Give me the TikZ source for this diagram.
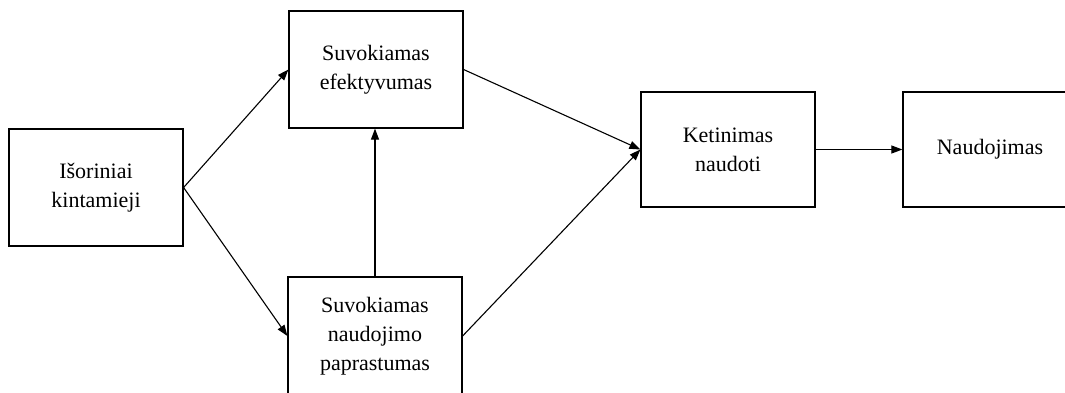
\documentclass[tikz,border=0pt]{standalone}
\usepackage{fontspec}
\setmainfont{Liberation Serif}
\usetikzlibrary{arrows.meta}
\begin{document}
\begin{tikzpicture}[x=1pt,y=-1pt,
  box/.style={draw,line width=1.2pt,minimum width=#1,align=center,inner sep=0pt,font=\fontsize{22}{29}\selectfont},
  conn/.style={line width=1.1pt,-{Triangle[length=11pt,width=8pt]}}]
\useasboundingbox (0,0) rectangle (1065,392);
\node[box=174pt,minimum height=117pt] (ext) at (96,187.5) {Išoriniai\\kintamieji};
\node[box=174pt,minimum height=117pt] (eff) at (376,69.5) {Suvokiamas\\efektyvumas};
\node[box=174pt,minimum height=118pt] (ease) at (375,336) {Suvokiamas\\naudojimo\\paprastumas};
\node[box=174pt,minimum height=115pt] (int) at (728,149.5) {Ketinimas\\naudoti};
\node[box=174pt,minimum height=115pt] (use) at (990,149.5) {Naudojimas};
\draw[conn] (ext.east) -- (eff.west);
\draw[conn] (ext.east) -- (ease.west);
\draw[conn] (ease.north) -- (ease.north |- eff.south);
\draw[conn] (eff.east) -- (int.west);
\draw[conn] (ease.east) -- (int.west);
\draw[conn] (int.east) -- (use.west);
\end{tikzpicture}
\end{document}
